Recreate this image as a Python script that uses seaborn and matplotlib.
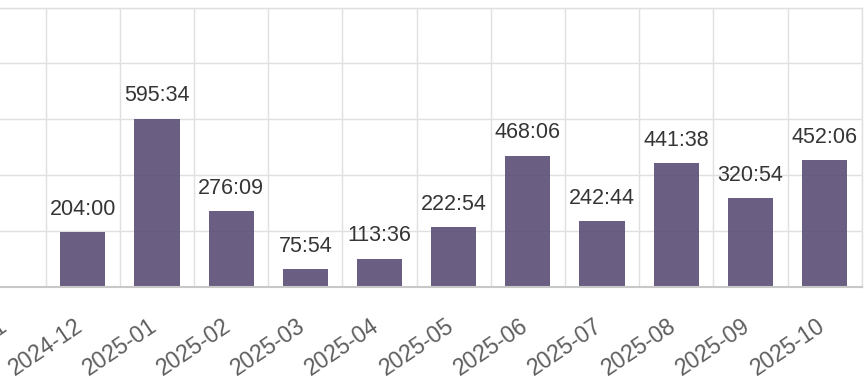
import numpy as np
import pandas as pd
import matplotlib
matplotlib.use("Agg")
import matplotlib.pyplot as plt
import seaborn as sns

# ---- data ----
months = ["2024-12", "2025-01", "2025-02", "2025-03", "2025-04", "2025-05",
          "2025-06", "2025-07", "2025-08", "2025-09", "2025-10"]
duration_labels = ["204:00", "595:34", "276:09", "75:54", "113:36", "222:54",
                   "468:06", "242:44", "441:38", "320:54", "452:06"]
tick_labels = ["2024-11", "2024-12", "2025-01", "2025-02", "2025-03", "2025-04",
               "2025-05", "2025-06", "2025-07", "2025-08", "2025-09", "2025-10", ""]

hours = [int(s.split(":")[0]) + int(s.split(":")[1]) / 60 for s in duration_labels]

sns.set_theme(style="whitegrid")
plt.rcParams['font.family'] = ['Liberation Sans', 'DejaVu Sans']

W, H = 868, 390
fig = plt.figure(figsize=(W / 100, H / 100), dpi=100)
left_px, right_px = -65.6, 861.7
top_px, bottom_px = 7.6, 286.5
ax = fig.add_axes([left_px / W, (H - bottom_px) / H,
                   (right_px - left_px) / W, (bottom_px - top_px) / H])

df = pd.DataFrame({"month": months, "hours": hours})
sns.barplot(data=df, x="month", y="hours", color="#5a4d76", saturation=1,
            width=0.61, alpha=0.9, linewidth=0, ax=ax)

ax.set_xlim(-2, 10.5)
ax.set_ylim(17.3, 977.3)
ax.set_yticks(np.arange(17.3, 978, 192))
ax.set_yticklabels([])
ax.set_xticks(np.arange(-1.5, 11, 1))
ax.set_xticklabels(tick_labels)
ax.set_xlabel("")
ax.set_ylabel("")

grid_c = "#e0e0e0"
ax.set_axisbelow(True)
ax.grid(True, color=grid_c, linewidth=1.0)
ax.tick_params(axis='x', length=11.5, width=1.0, color=grid_c, pad=8.5,
               labelsize=16.5, labelcolor="#5e5e5e", labelrotation=34)
ax.tick_params(axis='y', length=0)
for name, sp in ax.spines.items():
    sp.set_visible(True)
    sp.set_color(grid_c)
    sp.set_linewidth(1.0)
ax.spines['bottom'].set_color("#c8c8c8")
ax.spines['bottom'].set_linewidth(1.5)

for i, (h, lab) in enumerate(zip(hours, duration_labels)):
    ax.annotate(lab, (i, h), xytext=(0, 12.3), textcoords='offset points',
                ha='center', va='baseline', fontsize=15.5, color="#353535")

fig.savefig("out.png", dpi=100)
